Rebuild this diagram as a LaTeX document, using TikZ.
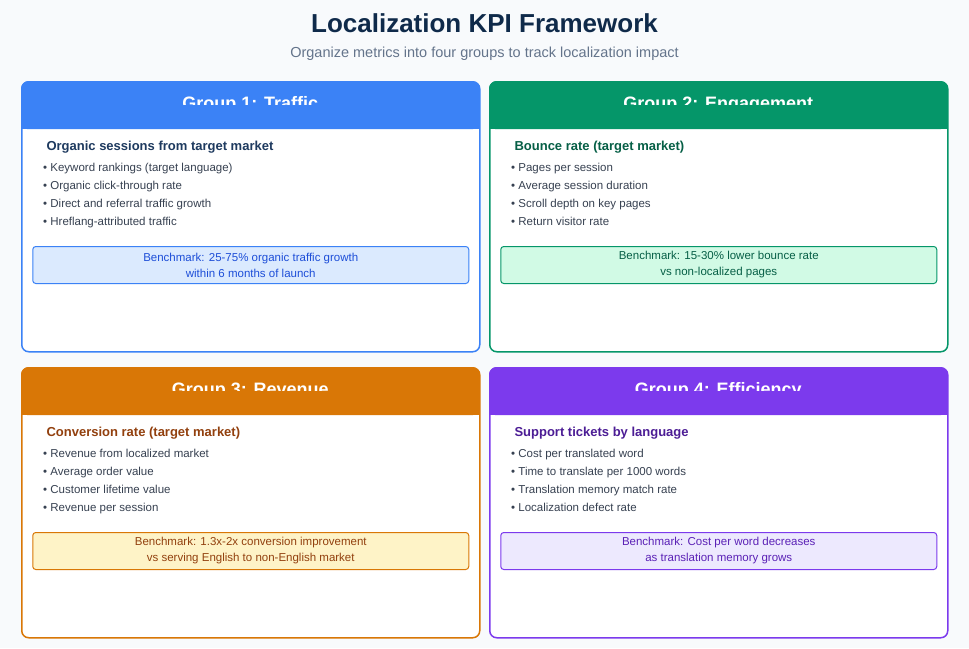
\documentclass[tikz,border=0pt]{standalone}
\usepackage{fontspec}
\setmainfont{Liberation Sans}
\usetikzlibrary{positioning,calc}
\definecolor{bgc}{HTML}{F8FAFC}
\definecolor{titlec}{HTML}{0F2A4A}
\definecolor{subc}{HTML}{64748B}
\definecolor{bulc}{HTML}{374151}
\definecolor{blueM}{HTML}{3B82F6}\definecolor{blueL}{HTML}{DBEAFE}\definecolor{blueD}{HTML}{1D4ED8}\definecolor{blueH}{HTML}{1E3A5F}
\definecolor{greenM}{HTML}{059669}\definecolor{greenL}{HTML}{D1FAE5}\definecolor{greenD}{HTML}{065F46}\definecolor{greenH}{HTML}{065F46}
\definecolor{orangeM}{HTML}{D97706}\definecolor{orangeL}{HTML}{FEF3C7}\definecolor{orangeD}{HTML}{92400E}\definecolor{orangeH}{HTML}{92400E}
\definecolor{purpleM}{HTML}{7C3AED}\definecolor{purpleL}{HTML}{EDE9FE}\definecolor{purpleD}{HTML}{5B21B6}\definecolor{purpleH}{HTML}{4C1D95}
\tikzset{
    card/.style = {draw, line width=1.5pt, rounded corners=7pt, fill=white,
        minimum width=458pt, minimum height=270pt, anchor=north west},
    head/.style = {rounded corners=7pt, minimum width=458pt, minimum height=48pt,
        anchor=north west, text=white, font=\fontsize{18}{20}\selectfont\bfseries},
    subhead/.style = {anchor=west, font=\fontsize{13}{15}\selectfont\bfseries},
    bullets/.style = {anchor=north west, align=left, text=bulc, inner sep=0pt,
        font=\fontsize{11.5}{18}\selectfont},
    bench/.style = {draw, line width=1pt, rounded corners=3pt, minimum width=436pt,
        minimum height=37pt, align=center, font=\fontsize{11.5}{16}\selectfont}
}
% #1 name, #2 corner, #3 colour, #4 title, #5 heading, #6 bullets, #7 benchmark
\newcommand{\kpicard}[7]{
    \node [card, draw=#3M] (#1) at #2 {};
    \node [head, fill=#3M] (#1h) at #2 {#4};
    \fill [#3M] ($(#1h.south west)+(0.75pt,0)$) rectangle ($(#1h.east)+(-0.75pt,0)$);
    \node [subhead, text=#3H] (#1s) at ($(#1.north west)+(22pt,-66pt)$) {#5};
    \node [bullets] (#1b) at ($(#1.north west)+(22pt,-82pt)$) {#6};
    \node [bench, draw=#3M, fill=#3L, text=#3D, anchor=north] (#1k)
        at ($(#1.north)+(0,-165pt)$) {#7};
}
\begin{document}
\begin{tikzpicture}[x=1pt,y=-1pt]
    \useasboundingbox [fill=bgc] (0,0) rectangle (969,648);
    \node [text=titlec, font=\fontsize{26}{30}\selectfont\bfseries] (title) at (484.5,23) {Localization KPI Framework};
    \node [text=subc, font=\fontsize{14.5}{17}\selectfont] (sub) at (484.5,54) {Organize metrics into four groups to track localization impact};
    \kpicard{g1}{(21,81)}{blue}{Group 1: Traffic}{Organic sessions from target market}
        {• Keyword rankings (target language)\\• Organic click-through rate\\• Direct and referral traffic growth\\• Hreflang-attributed traffic}
        {Benchmark: 25-75\% organic traffic growth\\within 6 months of launch}
    \kpicard{g2}{(489,81)}{green}{Group 2: Engagement}{Bounce rate (target market)}
        {• Pages per session\\• Average session duration\\• Scroll depth on key pages\\• Return visitor rate}
        {Benchmark: 15-30\% lower bounce rate\\vs non-localized pages}
    \kpicard{g3}{(21,367)}{orange}{Group 3: Revenue}{Conversion rate (target market)}
        {• Revenue from localized market\\• Average order value\\• Customer lifetime value\\• Revenue per session}
        {Benchmark: 1.3x-2x conversion improvement\\vs serving English to non-English market}
    \kpicard{g4}{(489,367)}{purple}{Group 4: Efficiency}{Support tickets by language}
        {• Cost per translated word\\• Time to translate per 1000 words\\• Translation memory match rate\\• Localization defect rate}
        {Benchmark: Cost per word decreases\\as translation memory grows}
\end{tikzpicture}
\end{document}
